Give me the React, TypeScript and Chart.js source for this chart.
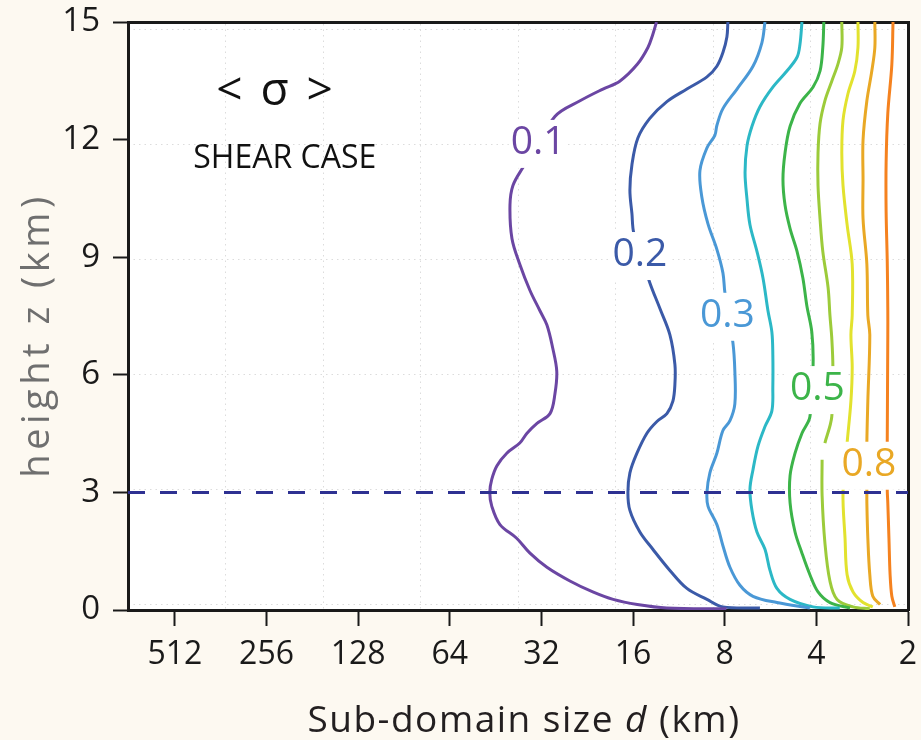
import React, { useEffect, useRef } from "react";
import { Chart, registerables } from "chart.js";

Chart.register(...registerables);

const FONT = "'Open Sans', 'DejaVu Sans', sans-serif";
const PAGE_BG = "#fdf9f1";
const INK = "#1a1a1a";

// Axis ranges and ticks
const D_MIN = 2;
const D_MAX = 730;
const Z_MIN = 0;
const Z_MAX = 15;
const sizeTicks = [512, 256, 128, 64, 32, 16, 8, 4, 2];
const heightTicks = [0, 3, 6, 9, 12, 15];
const gridColumns = [1, 2, 3, 4, 5, 6, 7];
const gridRows = [0, 1, 2, 3, 4, 5];

// Top of the sheared layer (km)
const SHEAR_TOP = 3;

// Contours of <σ>, each point is [sub-domain size d (km), height z (km)]
const sigma01: [number, number][] = [
  [13.4, 15.0], [13.8, 14.67], [14.3, 14.35], [15.5, 13.92], [17.7, 13.49], [20.1, 13.29],
  [23.9, 12.99], [28.9, 12.59], [36.8, 11.29], [39.7, 10.83], [40.6, 10.33], [40.0, 9.48],
  [37.7, 8.82], [34.9, 8.15], [32.4, 7.64], [30.7, 7.27], [29.4, 6.69], [28.5, 6.09],
  [28.9, 5.51], [30.0, 5.01], [33.1, 4.76], [35.7, 4.51], [37.7, 4.26], [41.6, 4.0],
  [44.8, 3.68], [46.6, 3.33], [47.3, 3.0], [46.6, 2.65], [43.8, 2.18], [38.6, 1.83],
  [34.9, 1.45], [30.7, 1.09], [25.8, 0.74], [21.7, 0.46], [18.6, 0.27], [15.5, 0.14],
  [12.4, 0.05], [7.9, 0.03],
];
const sigma02: [number, number][] = [
  [7.81, 15.0], [7.87, 14.62], [8.11, 14.22], [8.49, 13.87], [9.15, 13.6], [10.65, 13.29],
  [12.39, 12.97], [14.1, 12.54], [15.43, 12.04], [16.14, 11.36], [16.39, 10.71], [16.14, 10.11],
  [15.9, 9.6], [14.1, 8.35], [13.06, 7.69], [12.11, 7.02], [11.66, 6.26], [11.66, 5.76],
  [11.84, 5.33], [12.39, 5.01], [13.36, 4.81], [14.41, 4.51], [15.54, 4.0], [16.39, 3.5],
  [16.64, 3.0], [16.39, 2.54], [15.2, 1.99], [13.78, 1.55], [12.11, 1.01], [10.65, 0.55],
  [9.15, 0.27], [8.11, 0.08], [6.13, 0.05],
];
const sigma03: [number, number][] = [
  [5.9, 15.0], [6.04, 14.47], [6.46, 13.87], [7.29, 13.29], [8.11, 12.79], [8.49, 12.36],
  [8.62, 12.11], [9.15, 11.79], [9.65, 11.21], [9.51, 10.53], [9.08, 9.85], [8.49, 9.2],
  [8.11, 8.6], [7.99, 8.1], [7.52, 6.82], [7.41, 6.09], [7.41, 5.26], [7.69, 4.83],
  [8.11, 4.58], [8.49, 4.0], [8.95, 3.5], [9.15, 3.0], [9.08, 2.65], [8.49, 2.18],
  [8.11, 1.64], [7.69, 1.09], [7.13, 0.63], [6.46, 0.35], [5.39, 0.19], [4.2, 0.05],
];
const sigma04: [number, number][] = [
  [4.46, 15.0], [4.53, 14.42], [4.63, 14.1], [5.0, 13.75], [5.56, 13.34], [6.13, 12.84],
  [6.51, 12.34], [6.76, 11.84], [6.86, 11.16], [6.76, 10.48], [6.61, 9.83], [6.27, 9.15],
  [5.99, 8.47], [5.77, 7.64], [5.6, 7.09], [5.56, 6.51], [5.56, 5.69], [5.6, 5.08],
  [5.9, 4.68], [6.22, 4.18], [6.46, 3.58], [6.61, 3.08], [6.51, 2.54], [6.27, 1.99],
  [5.9, 1.55], [5.68, 1.01], [5.39, 0.55], [4.88, 0.27], [4.1, 0.08], [3.35, 0.05],
];
const sigma05: [number, number][] = [
  [3.78, 15.0], [3.81, 14.35], [3.89, 13.75], [4.1, 13.34], [4.53, 12.92], [4.88, 12.34],
  [5.07, 11.66], [5.15, 10.98], [5.07, 10.33], [4.88, 9.73], [4.63, 9.15], [4.43, 8.47],
  [4.3, 7.77], [4.14, 7.09], [4.1, 6.26], [4.2, 4.93], [4.46, 4.51], [4.7, 4.0],
  [4.88, 3.43], [4.88, 2.73], [4.7, 1.99], [4.46, 1.45], [4.2, 0.9], [3.95, 0.46],
  [3.61, 0.19], [3.1, 0.05],
];
const sigma06Upper: [number, number][] = [
  [3.3, 15.0], [3.3, 14.35], [3.4, 13.92], [3.56, 13.49], [3.75, 12.99], [3.89, 12.41],
  [3.95, 11.66], [3.95, 10.83], [3.89, 9.98], [3.81, 9.15], [3.66, 8.22], [3.61, 7.52],
  [3.56, 6.94], [3.53, 6.19], [3.56, 4.93], [3.75, 4.26],
];
const sigma06Lower: [number, number][] = [
  [3.83, 3.83], [3.83, 2.92], [3.75, 1.72], [3.61, 0.74], [3.42, 0.27], [3.03, 0.08], [2.67, 0.03],
];
const sigma07: [number, number][] = [
  [2.92, 15.0], [2.92, 14.35], [2.99, 13.75], [3.15, 13.17], [3.27, 12.49], [3.3, 11.66],
  [3.27, 10.83], [3.17, 9.83], [3.05, 8.82], [3.05, 7.52], [3.08, 7.02], [3.05, 6.19],
  [3.08, 5.33], [3.17, 4.26], [3.27, 3.0], [3.22, 1.83], [3.17, 0.9], [3.03, 0.46],
  [2.81, 0.19], [2.61, 0.08],
];
const sigma08: [number, number][] = [
  [2.57, 15.0], [2.57, 14.35], [2.63, 13.75], [2.73, 12.99], [2.81, 11.99], [2.81, 10.98],
  [2.81, 9.98], [2.73, 8.82], [2.71, 7.52], [2.67, 7.02], [2.71, 5.33], [2.73, 4.26],
  [2.73, 3.08], [2.73, 2.73], [2.71, 1.83], [2.67, 0.9], [2.61, 0.35], [2.47, 0.14],
];
const sigma09: [number, number][] = [
  [2.24, 15.0], [2.26, 13.92], [2.33, 12.67], [2.36, 11.41], [2.36, 10.16], [2.34, 8.9],
  [2.33, 7.64], [2.33, 7.02], [2.34, 4.26], [2.34, 3.08], [2.33, 2.73], [2.31, 1.83],
  [2.29, 0.9], [2.26, 0.35], [2.21, 0.08],
];

const contourLevels = [0.1, 0.2, 0.3, 0.4, 0.5, 0.6, 0.7, 0.8, 0.9];
const contourColors = [
  "#6b46a3", "#3b5aa8", "#4a98d6", "#2cb8c6", "#3cb449",
  "#9ccb3a", "#e2e22e", "#e9a825", "#f5821f",
];
const contourPaths: [number, number][][][] = [
  [sigma01], [sigma02], [sigma03], [sigma04], [sigma05],
  [sigma06Upper, sigma06Lower], [sigma07], [sigma08], [sigma09],
];

// Inline contour labels: level, and where along the line it sits
const labelLevels = [0.1, 0.2, 0.3, 0.5, 0.8];
const labelSizes = [32.8, 15.2, 7.84, 3.97, 2.69];
const labelHeights = [11.89, 9.03, 7.48, 5.61, 3.68];

// Panel headline placement (data coordinates)
const headlineSize = 242;
const headlineHeight = 13.22;
const caseSize = 223;
const caseHeight = 11.51;

const colorForLevel = (lvl: number) => contourColors[contourLevels.indexOf(lvl)];

const panelPlugin = {
  id: "panelDecor",
  beforeDraw(chart: any) {
    const { ctx, chartArea: a } = chart;
    ctx.save();
    ctx.fillStyle = "#ffffff";
    ctx.fillRect(a.left, a.top, a.right - a.left, a.bottom - a.top);
    ctx.restore();
  },
  afterDatasetsDraw(chart: any) {
    const { ctx } = chart;
    const xs = chart.scales.x;
    const ys = chart.scales.y;
    ctx.save();
    ctx.textAlign = "center";
    ctx.textBaseline = "middle";
    ctx.font = `39px ${FONT}`;
    labelLevels.forEach((lvl, i) => {
      const text = lvl.toFixed(1);
      const px = xs.getPixelForValue(labelSizes[i]);
      const py = ys.getPixelForValue(labelHeights[i]);
      const w = ctx.measureText(text).width + 4;
      ctx.fillStyle = "#ffffff";
      ctx.fillRect(px - w / 2, py - 24, w, 48);
      ctx.fillStyle = colorForLevel(lvl);
      ctx.fillText(text, px, py - 1);
    });

    ctx.fillStyle = "#111111";
    ctx.font = `500 46px ${FONT}`;
    (ctx as any).letterSpacing = "3px";
    ctx.fillText("< σ >", xs.getPixelForValue(headlineSize) + 2, ys.getPixelForValue(headlineHeight));
    (ctx as any).letterSpacing = "0px";
    ctx.font = `32px ${FONT}`;
    ctx.fillText("SHEAR CASE", xs.getPixelForValue(caseSize), ys.getPixelForValue(caseHeight));
    ctx.restore();
  },
  afterDraw(chart: any) {
    const { ctx, chartArea: a } = chart;
    // y-axis title
    ctx.save();
    ctx.translate(49, (a.top + a.bottom) / 2 + 19);
    ctx.rotate(-Math.PI / 2);
    ctx.font = `38px ${FONT}`;
    (ctx as any).letterSpacing = "4.5px";
    ctx.fillStyle = "#6f6f6f";
    ctx.textAlign = "center";
    ctx.textBaseline = "alphabetic";
    ctx.fillText("height z (km)", 0, 0);
    ctx.restore();

    // x-axis title with italic d
    ctx.save();
    (ctx as any).letterSpacing = "1.5px";
    ctx.fillStyle = "#231f20";
    ctx.textAlign = "left";
    ctx.textBaseline = "alphabetic";
    const normal = `37px ${FONT}`;
    const italic = `italic 37px ${FONT}`;
    const parts: [string, string][] = [["Sub-domain size ", normal], ["d", italic], [" (km)", normal]];
    let total = 0;
    const widths = parts.map(([t, f]) => {
      ctx.font = f;
      const w = ctx.measureText(t).width;
      total += w;
      return w;
    });
    let x = (a.left + a.right) / 2 + 6 - total / 2;
    parts.forEach(([t, f], i) => {
      ctx.font = f;
      ctx.fillText(t, x, 732);
      x += widths[i];
    });
    ctx.restore();
  },
};

const noEdgePadding = (s: any) => {
  s.paddingTop = 0;
  s.paddingBottom = 0;
  s.paddingLeft = 0;
  s.paddingRight = 0;
};

export default function App() {
  const canvasRef = useRef<HTMLCanvasElement>(null);

  useEffect(() => {
    document.body.style.margin = "0";
    document.body.style.background = PAGE_BG;
    Chart.defaults.font.family = FONT;

    const datasets: any[] = [
      {
        label: "z = 3 km",
        data: [
          { x: D_MAX, y: SHEAR_TOP },
          { x: D_MIN, y: SHEAR_TOP },
        ],
        borderColor: "#2e3192",
        borderWidth: 3,
        borderDash: [17, 15],
        pointRadius: 0,
        tension: 0,
        order: 0,
      },
    ];
    contourLevels.forEach((lvl, i) => {
      contourPaths[i].forEach((path) => {
        datasets.push({
          label: `<σ> = ${lvl}`,
          data: path.map(([d, z]) => ({ x: d, y: z })),
          borderColor: contourColors[i],
          borderWidth: 3,
          pointRadius: 0,
          tension: 0.35,
          fill: false,
          order: 1,
        });
      });
    });

    const chart = new Chart(canvasRef.current as HTMLCanvasElement, {
      type: "line",
      data: { datasets },
      options: {
        responsive: false,
        maintainAspectRatio: false,
        devicePixelRatio: 1,
        animation: false,
        layout: { padding: { top: 22, right: 13, left: 0, bottom: 0 } },
        plugins: { legend: { display: false }, tooltip: { enabled: false } },
        scales: {
          x: {
            type: "logarithmic",
            position: "bottom",
            reverse: true,
            min: D_MIN,
            max: D_MAX,
            afterBuildTicks: (s: any) => {
              s.ticks = sizeTicks.map((v) => ({ value: v }));
            },
            afterFit: (s: any) => {
              s.height = 130;
              noEdgePadding(s);
            },
            ticks: {
              autoSkip: false,
              maxRotation: 0,
              padding: 10,
              color: INK,
              font: { family: FONT, size: 32 },
              callback: (v: any) => String(v),
            },
            grid: {
              drawOnChartArea: false,
              drawTicks: true,
              tickLength: 16,
              tickColor: INK,
              tickWidth: 2,
            },
            border: { display: true, color: INK, width: 3 },
          },
          y: {
            type: "linear",
            position: "left",
            min: Z_MIN,
            max: Z_MAX,
            afterBuildTicks: (s: any) => {
              s.ticks = heightTicks.map((v) => ({ value: v }));
            },
            afterFit: (s: any) => {
              s.width = 128;
              noEdgePadding(s);
            },
            ticks: {
              padding: 13,
              color: INK,
              font: { family: FONT, size: 33 },
            },
            grid: {
              drawOnChartArea: false,
              drawTicks: true,
              tickLength: 15,
              tickColor: INK,
              tickWidth: 2,
            },
            border: { display: true, color: INK, width: 3 },
          },
          xGrid: {
            type: "linear",
            position: "top",
            min: 0,
            max: 8,
            afterBuildTicks: (s: any) => {
              s.ticks = gridColumns.map((v) => ({ value: v }));
            },
            afterFit: (s: any) => {
              s.height = 0;
              noEdgePadding(s);
            },
            ticks: { display: false },
            grid: { drawTicks: false, color: "#dcdcdc", lineWidth: 1 },
            border: { display: true, color: INK, width: 3, dash: [1.5, 4] },
          },
          yGrid: {
            type: "linear",
            position: "right",
            min: -0.052,
            max: 5.061,
            afterBuildTicks: (s: any) => {
              s.ticks = gridRows.map((v) => ({ value: v }));
            },
            afterFit: (s: any) => {
              s.width = 0;
              noEdgePadding(s);
            },
            ticks: { display: false },
            grid: { drawTicks: false, color: "#dcdcdc", lineWidth: 1 },
            border: { display: true, color: INK, width: 3, dash: [1.5, 4] },
          },
        },
      } as any,
      plugins: [panelPlugin],
    });

    return () => chart.destroy();
  }, []);

  return (
    <div style={{ width: 921, height: 740, background: PAGE_BG }}>
      <canvas ref={canvasRef} width={921} height={740} style={{ display: "block" }} />
    </div>
  );
}
